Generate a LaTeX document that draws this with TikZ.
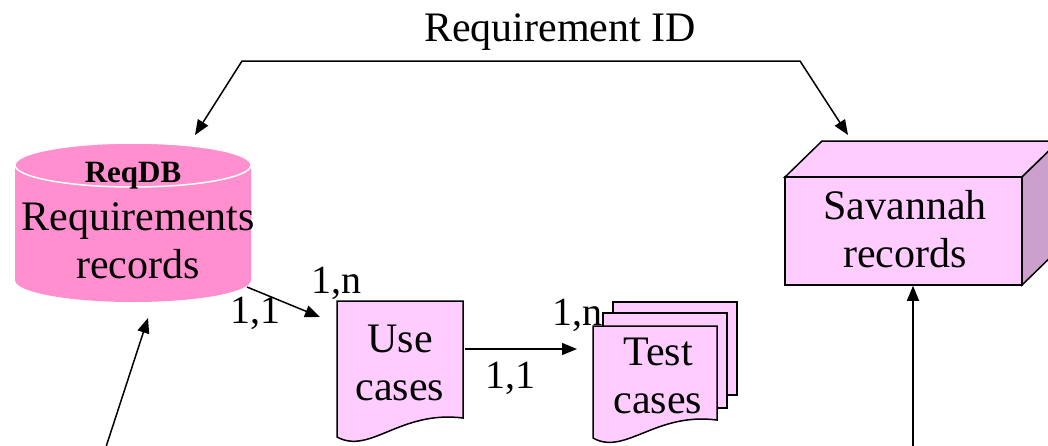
\documentclass[tikz,border=0pt]{standalone}
\usepackage{fontspec}
\setmainfont{Liberation Serif}
\usetikzlibrary{arrows.meta, positioning}
\definecolor{dbpink}{RGB}{255,143,207}
\definecolor{docpink}{RGB}{255,204,255}
\definecolor{sidepink}{RGB}{204,160,204}

\begin{document}
\begin{tikzpicture}[x=1pt, y=-1pt,
    >={Triangle[length=15pt, width=12pt]},
    big/.style={font=\fontsize{42}{48}\selectfont, align=center, inner sep=0pt},
    card/.style={font=\fontsize{40}{46}\selectfont, inner sep=0pt, anchor=base},
    sheet/.style={draw=black, line width=1.5pt, fill=docpink},
    conn/.style={line width=1.5pt}]
    \useasboundingbox (0,0) rectangle (1048,445);

    % requirement database
    \fill[dbpink] (15,165) -- (15,280) arc[start angle=180, end angle=0, x radius=118, y radius=22]
        -- (251,165) arc[start angle=0, end angle=-180, x radius=118, y radius=22] -- cycle;
    \draw[white, line width=1.5pt] (133,165) ellipse[x radius=118, y radius=22];
    \node[font=\fontsize{31}{36}\selectfont\bfseries, anchor=base, inner sep=0pt] (reqdb) at (133,182) {ReqDB};
    \node[big] (req) at (138,241) {Requirements\\records};

    % savannah box
    \draw[sheet] (785,177) -- (822,141) -- (1059,141) -- (1022,177) -- cycle;
    \draw[sheet, fill=sidepink] (1022,177) -- (1059,141) -- (1059,249) -- (1022,285) -- cycle;
    \node[sheet, minimum width=237, minimum height=108, inner sep=0pt] (savbox) at (903.5,231) {};
    \node[big] (sav) at (905,229) {Savannah\\records};

    % top link
    \node[big, anchor=base] (rid) at (560,41) {Requirement ID};
    \coordinate (ridL) at (242,61);
    \coordinate (ridR) at (800,61);
    \coordinate (reqIn) at (195,135);
    \coordinate (savIn) at (848,135);
    \draw[conn, <->] (reqIn) -- (ridL) -- (ridR) -- (savIn);

    % use cases
    \draw[sheet] (337,301) -- (463,301) -- (463,418) .. controls (400,410) and (370,455) .. (337,437) -- cycle;
    \node[big] (use) at (400,363) {Use\\cases};

    % cardinalities
    \node[card] (c11a) at (255,323) {1,1};
    \node[card] (c1na) at (336,293) {1,n};
    \node[card] (c11b) at (510,388) {1,1};
    \node[card] (c1nb) at (577,325) {1,n};

    % test cases
    \draw[sheet] (613,302) rectangle (737,395);
    \draw[sheet] (603,313) rectangle (727,408);
    \draw[sheet] (593,326) -- (717,326) -- (717,420) .. controls (655,412) and (625,456) .. (593,438) -- cycle;
    \node[big] (test) at (658,376) {Test\\cases};

    % connectors
    \coordinate (reqOut) at (247,287);
    \coordinate (useIn) at (320,317);
    \coordinate (useOut) at (465,349);
    \coordinate (testIn) at (577,349);
    \coordinate (feedL) at (105,450);
    \coordinate (reqBot) at (148,318);
    \coordinate (feedR) at (913,450);
    \draw[conn, ->] (reqOut) -- (useIn);
    \draw[conn, ->] (useOut) -- (testIn);
    \draw[conn, ->] (feedL) -- (reqBot);
    \draw[conn, ->] (feedR) -- (savbox.south -| feedR);
\end{tikzpicture}
\end{document}
